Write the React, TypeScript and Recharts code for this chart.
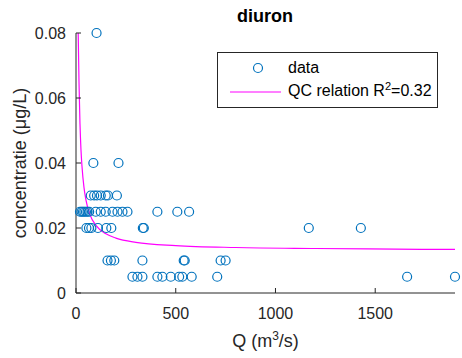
import { ComposedChart, Scatter, Line, XAxis, YAxis, Label } from "recharts";

// measured points (Q in m3/s, concentration in ug/L)
const dataQ = [
  103,
  87, 213,
  74, 91, 105, 124, 149, 160, 205,
  20, 28, 35, 42, 50, 58, 66, 99, 124, 149, 183, 208, 233, 258, 408, 508, 567,
  52, 65, 77, 110, 152, 177, 335, 340, 1167, 1428,
  158, 175, 192, 333, 540, 545, 725, 750,
  283, 308, 333, 408, 433, 475, 517, 533, 580, 708, 1660, 1900,
];
const dataC = [
  0.08,
  0.04, 0.04,
  0.03, 0.03, 0.03, 0.03, 0.03, 0.03, 0.03,
  0.025, 0.025, 0.025, 0.025, 0.025, 0.025, 0.025, 0.025, 0.025, 0.025, 0.025, 0.025, 0.025, 0.025, 0.025, 0.025, 0.025,
  0.02, 0.02, 0.02, 0.02, 0.02, 0.02, 0.02, 0.02, 0.02, 0.02,
  0.01, 0.01, 0.01, 0.01, 0.01, 0.01, 0.01, 0.01,
  0.005, 0.005, 0.005, 0.005, 0.005, 0.005, 0.005, 0.005, 0.005, 0.005, 0.005, 0.005,
];

// QC relation curve
const curveQ = [11, 15, 20, 25, 30, 40, 50, 70, 100, 150, 200, 300, 500, 800, 1200, 1600, 1900];
const curveC = [0.08, 0.065, 0.052, 0.044, 0.039, 0.0325, 0.0286, 0.0241, 0.0208, 0.0182, 0.0169, 0.0156, 0.0146, 0.014, 0.0137, 0.0135, 0.0134];

const xTicks = [0, 500, 1000, 1500];
const yTicks = [0, 0.02, 0.04, 0.06, 0.08];

const scatterData = dataQ.map((q, i) => ({ q, c: dataC[i] }));
const curveData = curveQ.map((q, i) => ({ q, c: curveC[i] }));

const FONT = "'Liberation Sans', Arial, Helvetica, sans-serif";
const INK = "#262626";
const BLUE = "#0072BD";
const MAGENTA = "#FF00FF";

const Ring = (props: any) => (
  <circle cx={props.cx} cy={props.cy} r={4.5} fill="none" stroke={BLUE} strokeWidth={1.2} />
);

const XTitle = ({ viewBox }: any) => {
  const cx = viewBox.x + viewBox.width / 2;
  return (
    <text x={cx} y={347} textAnchor="middle" fontSize={18} fill={INK} fontFamily={FONT}>
      Q (m<tspan dy={-7} fontSize={12}>3</tspan>
      <tspan dy={7}>/s)</tspan>
    </text>
  );
};

const YTitle = ({ viewBox }: any) => {
  const cy = viewBox.y + viewBox.height / 2;
  return (
    <text
      x={26}
      y={cy}
      transform={`rotate(-90 26 ${cy})`}
      textAnchor="middle"
      fontSize={18}
      fill={INK}
      fontFamily={FONT}
    >
      concentratie (μg/L)
    </text>
  );
};

export default function App() {
  return (
    <div style={{ position: "absolute", left: 0, top: 0, width: 462, height: 358, background: "#fff" }}>
      <ComposedChart
        width={462}
        height={358}
        margin={{ top: 33, right: 7, bottom: 35, left: 16 }}
      >
        <XAxis
          type="number"
          dataKey="q"
          domain={[0, 1900]}
          ticks={xTicks}
          height={30}
          tickSize={-5}
          tickMargin={20}
          stroke={INK}
          tick={{ fill: INK, fontSize: 16, fontFamily: FONT }}
        >
          <Label content={<XTitle />} />
        </XAxis>
        <YAxis
          type="number"
          dataKey="c"
          domain={[0, 0.08]}
          ticks={yTicks}
          width={60}
          tickSize={-5}
          tickMargin={15}
          stroke={INK}
          tick={{ fill: INK, fontSize: 16, fontFamily: FONT }}
        >
          <Label content={<YTitle />} />
        </YAxis>
        <Scatter data={scatterData} shape={<Ring />} isAnimationActive={false} />
        <Line
          data={curveData}
          dataKey="c"
          type="monotone"
          dot={false}
          stroke={MAGENTA}
          strokeWidth={1.2}
          isAnimationActive={false}
        />
      </ComposedChart>

      <div
        style={{
          position: "absolute",
          left: 150,
          top: 6,
          width: 230,
          textAlign: "center",
          fontFamily: FONT,
          fontWeight: "bold",
          fontSize: 18,
          color: "#000",
        }}
      >
        diuron
      </div>

      <div
        style={{
          position: "absolute",
          left: 217,
          top: 52,
          width: 219,
          height: 54,
          border: `1px solid ${INK}`,
          background: "#fff",
          fontFamily: FONT,
          fontSize: 16,
          color: "#000",
        }}
      >
        <svg width={70} height={54} style={{ position: "absolute", left: 0, top: 0 }}>
          <circle cx={40} cy={15} r={4.5} fill="none" stroke={BLUE} strokeWidth={1.2} />
          <line x1={12} x2={63} y1={39} y2={39} stroke={MAGENTA} strokeWidth={1.2} />
        </svg>
        <div style={{ position: "absolute", left: 70, top: 5, lineHeight: "20px" }}>data</div>
        <div style={{ position: "absolute", left: 70, top: 28, lineHeight: "20px", whiteSpace: "nowrap" }}>
          QC relation R<sup style={{ fontSize: 11, verticalAlign: "6px", lineHeight: 0 }}>2</sup>=0.32
        </div>
      </div>
    </div>
  );
}
